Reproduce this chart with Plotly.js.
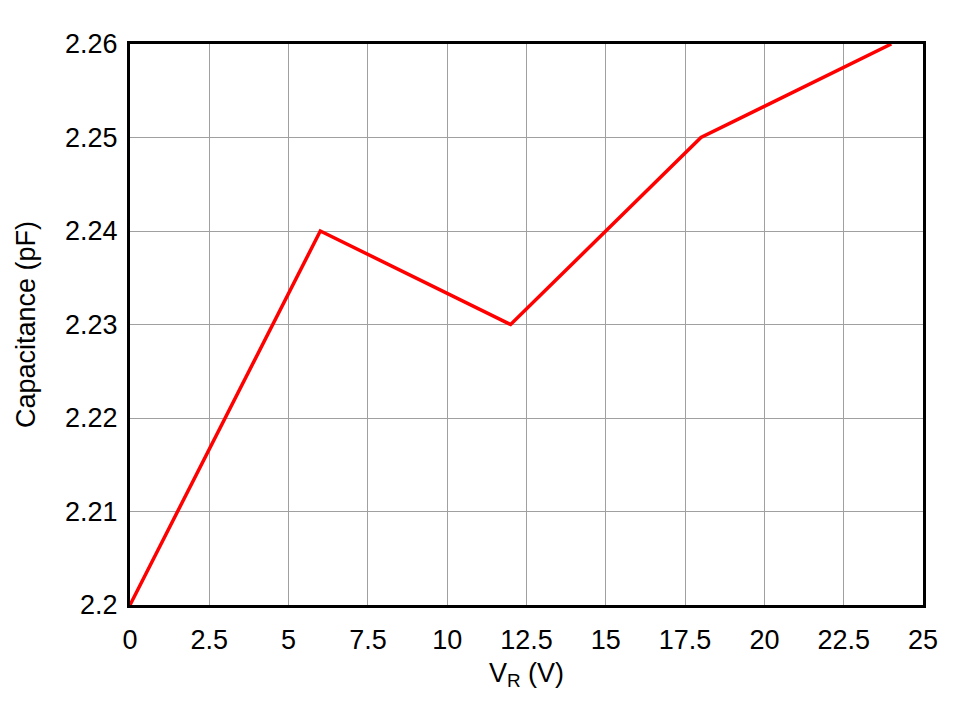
<!DOCTYPE html>
<html>
<head>
<meta charset="utf-8">
<script src="https://cdn.plot.ly/plotly-3.0.1.min.js"></script>
<style>html,body{margin:0;padding:0;background:#fff;}#chart{width:964px;height:701px;}</style>
</head>
<body>
<div id="chart"></div>
<script>
const vr = [0, 6, 12, 18, 24];
const capacitance = [2.2, 2.24, 2.23, 2.25, 2.26];
const xTickVals = [0, 2.5, 5, 7.5, 10, 12.5, 15, 17.5, 20, 22.5, 25];
const xTickText = ["0", "2.5", "5", "7.5", "10", "12.5", "15", "17.5", "20", "22.5", "25"];
const yTickVals = [2.2, 2.21, 2.22, 2.23, 2.24, 2.25, 2.26];
const yTickText = ["2.2", "2.21", "2.22", "2.23", "2.24", "2.25", "2.26"];

const font = {family: "Liberation Sans, Arial, sans-serif", size: 27, color: "#000"};

Plotly.newPlot("chart", [{
  x: vr, y: capacitance, type: "scatter", mode: "lines",
  line: {color: "#ff0000", width: 3.5}, hoverinfo: "skip"
}], {
  width: 964, height: 701,
  margin: {l: 130, r: 41, t: 44, b: 96},
  paper_bgcolor: "#fff", plot_bgcolor: "#fff",
  font: font,
  showlegend: false,
  xaxis: {
    range: [0, 25], tickvals: xTickVals, ticktext: xTickText,
    showgrid: true, gridcolor: "#a0a0a0", gridwidth: 1,
    showline: true, linecolor: "#000", linewidth: 3, mirror: true,
    ticks: "", ticklen: 0, zeroline: false, ticklabelstandoff: 9,
    tickfont: font,
    title: {text: "V<sub>R</sub> (V)", font: font, standoff: 9}
  },
  yaxis: {
    range: [2.2, 2.26], tickvals: yTickVals, ticktext: yTickText,
    showgrid: true, gridcolor: "#a0a0a0", gridwidth: 1,
    showline: true, linecolor: "#000", linewidth: 3, mirror: true,
    ticks: "", ticklen: 0, zeroline: false, ticklabelstandoff: 4,
    tickfont: font,
    title: {text: "Capacitance (pF)", font: font, standoff: 22}
  }
}, {staticPlot: true});
</script>
</body>
</html>
